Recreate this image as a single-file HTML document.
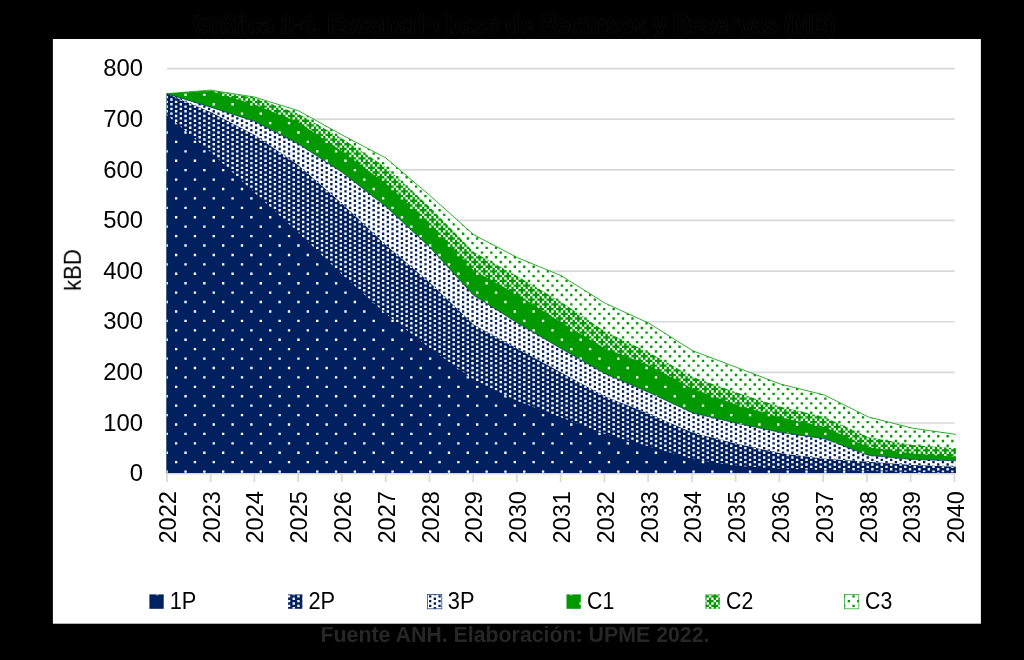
<!DOCTYPE html>
<html><head><meta charset="utf-8"><title>Grafica 1-4</title><style>html,body{margin:0;padding:0;background:#000;}body{width:1024px;height:660px;overflow:hidden;position:relative;font-family:"Liberation Sans",sans-serif;}</style></head><body><svg width="1024" height="660" viewBox="0 0 1024 660" style="position:absolute;left:0;top:0">
<defs><clipPath id="c1"><polygon points="166.60,114.75 210.45,151.90 254.30,192.50 298.15,232.50 342.00,274.40 385.85,313.75 429.70,348.00 473.55,379.60 517.40,401.00 561.25,417.50 605.10,433.90 648.95,446.40 692.80,459.00 736.65,466.00 780.50,468.50 824.35,470.00 868.20,471.00 912.05,472.00 955.90,472.60 955.90,473.10 912.05,473.10 868.20,473.10 824.35,473.10 780.50,473.10 736.65,473.10 692.80,473.10 648.95,473.10 605.10,473.10 561.25,473.10 517.40,473.10 473.55,473.10 429.70,473.10 385.85,473.10 342.00,473.10 298.15,473.10 254.30,473.10 210.45,473.10 166.60,473.10"/></clipPath><clipPath id="c2"><polygon points="166.60,93.70 210.45,111.90 254.30,134.80 298.15,165.10 342.00,203.40 385.85,245.00 429.70,282.60 473.55,324.50 517.40,348.75 561.25,372.50 605.10,396.60 648.95,413.80 692.80,432.80 736.65,443.75 780.50,453.30 824.35,458.75 868.20,461.70 912.05,465.00 955.90,466.80 955.90,473.10 912.05,473.10 868.20,473.10 824.35,473.10 780.50,473.10 736.65,473.10 692.80,473.10 648.95,473.10 605.10,473.10 561.25,473.10 517.40,473.10 473.55,473.10 429.70,473.10 385.85,473.10 342.00,473.10 298.15,473.10 254.30,473.10 210.45,473.10 166.60,473.10"/></clipPath><clipPath id="c3"><polygon points="166.60,93.70 210.45,107.20 254.30,121.25 298.15,143.80 342.00,172.30 385.85,206.60 429.70,247.20 473.55,295.30 517.40,323.00 561.25,348.75 605.10,373.75 648.95,392.50 692.80,413.00 736.65,423.30 780.50,432.50 824.35,438.75 868.20,455.30 912.05,459.60 955.90,460.80 955.90,473.10 912.05,473.10 868.20,473.10 824.35,473.10 780.50,473.10 736.65,473.10 692.80,473.10 648.95,473.10 605.10,473.10 561.25,473.10 517.40,473.10 473.55,473.10 429.70,473.10 385.85,473.10 342.00,473.10 298.15,473.10 254.30,473.10 210.45,473.10 166.60,473.10"/></clipPath><clipPath id="c4"><polygon points="166.60,93.70 210.45,91.00 254.30,104.60 298.15,121.90 342.00,151.20 385.85,183.40 429.70,223.10 473.55,270.20 517.40,294.50 561.25,322.50 605.10,348.40 648.95,365.30 692.80,388.75 736.65,404.70 780.50,417.50 824.35,426.80 868.20,447.30 912.05,453.60 955.90,456.70 955.90,473.10 912.05,473.10 868.20,473.10 824.35,473.10 780.50,473.10 736.65,473.10 692.80,473.10 648.95,473.10 605.10,473.10 561.25,473.10 517.40,473.10 473.55,473.10 429.70,473.10 385.85,473.10 342.00,473.10 298.15,473.10 254.30,473.10 210.45,473.10 166.60,473.10"/></clipPath><clipPath id="c5"><polygon points="166.60,93.70 210.45,90.50 254.30,97.70 298.15,113.70 342.00,138.60 385.85,167.20 429.70,206.90 473.55,251.90 517.40,276.25 561.25,302.00 605.10,331.50 648.95,352.50 692.80,377.00 736.65,392.50 780.50,406.80 824.35,417.00 868.20,437.00 912.05,445.00 955.90,448.30 955.90,473.10 912.05,473.10 868.20,473.10 824.35,473.10 780.50,473.10 736.65,473.10 692.80,473.10 648.95,473.10 605.10,473.10 561.25,473.10 517.40,473.10 473.55,473.10 429.70,473.10 385.85,473.10 342.00,473.10 298.15,473.10 254.30,473.10 210.45,473.10 166.60,473.10"/></clipPath><clipPath id="c6"><polygon points="166.60,93.70 210.45,90.10 254.30,97.00 298.15,110.60 342.00,134.90 385.85,158.00 429.70,195.30 473.55,234.60 517.40,257.60 561.25,275.70 605.10,303.20 648.95,323.20 692.80,350.80 736.65,367.40 780.50,384.10 824.35,395.00 868.20,416.90 912.05,428.10 955.90,434.40 955.90,473.10 912.05,473.10 868.20,473.10 824.35,473.10 780.50,473.10 736.65,473.10 692.80,473.10 648.95,473.10 605.10,473.10 561.25,473.10 517.40,473.10 473.55,473.10 429.70,473.10 385.85,473.10 342.00,473.10 298.15,473.10 254.30,473.10 210.45,473.10 166.60,473.10"/></clipPath><filter id="bl" x="-2%" y="-2%" width="104%" height="104%"><feGaussianBlur stdDeviation="0.3"/></filter><filter id="tb" x="-2%" y="-2%" width="104%" height="104%"><feGaussianBlur stdDeviation="0.35"/></filter></defs>
<rect x="52.9" y="39" width="928" height="584.7" fill="#fff"/>
<line x1="167.0" y1="423.00" x2="954.5" y2="423.00" stroke="#d9d9d9" stroke-width="1.7"/>
<line x1="167.0" y1="372.36" x2="954.5" y2="372.36" stroke="#d9d9d9" stroke-width="1.7"/>
<line x1="167.0" y1="321.73" x2="954.5" y2="321.73" stroke="#d9d9d9" stroke-width="1.7"/>
<line x1="167.0" y1="271.09" x2="954.5" y2="271.09" stroke="#d9d9d9" stroke-width="1.7"/>
<line x1="167.0" y1="220.46" x2="954.5" y2="220.46" stroke="#d9d9d9" stroke-width="1.7"/>
<line x1="167.0" y1="169.83" x2="954.5" y2="169.83" stroke="#d9d9d9" stroke-width="1.7"/>
<line x1="167.0" y1="119.19" x2="954.5" y2="119.19" stroke="#d9d9d9" stroke-width="1.7"/>
<line x1="167.0" y1="68.56" x2="954.5" y2="68.56" stroke="#d9d9d9" stroke-width="1.7"/>
<line x1="166.2" y1="473.63" x2="955.3" y2="473.63" stroke="#d9d9d9" stroke-width="1.7"/>
<g>
<polygon points="166.60,93.70 210.45,90.10 254.30,97.00 298.15,110.60 342.00,134.90 385.85,158.00 429.70,195.30 473.55,234.60 517.40,257.60 561.25,275.70 605.10,303.20 648.95,323.20 692.80,350.80 736.65,367.40 780.50,384.10 824.35,395.00 868.20,416.90 912.05,428.10 955.90,434.40 955.90,473.10 912.05,473.10 868.20,473.10 824.35,473.10 780.50,473.10 736.65,473.10 692.80,473.10 648.95,473.10 605.10,473.10 561.25,473.10 517.40,473.10 473.55,473.10 429.70,473.10 385.85,473.10 342.00,473.10 298.15,473.10 254.30,473.10 210.45,473.10 166.60,473.10" fill="#fff"/>
<g clip-path="url(#c6)"><path d="M156.14 87.74H960M156.14 97.16H960M156.14 106.58H960M156.14 116.00H960M156.14 125.42H960M156.14 134.84H960M156.14 144.26H960M156.14 153.68H960M156.14 163.10H960M156.14 172.52H960M156.14 181.94H960M156.14 191.36H960M156.14 200.78H960M156.14 210.20H960M156.14 219.62H960M156.14 229.04H960M156.14 238.46H960M156.14 247.88H960M156.14 257.30H960M156.14 266.72H960M156.14 276.14H960M156.14 285.56H960M156.14 294.98H960M156.14 304.40H960M156.14 313.82H960M156.14 323.24H960M156.14 332.66H960M156.14 342.08H960M156.14 351.50H960M156.14 360.92H960M156.14 370.34H960M156.14 379.76H960M156.14 389.18H960M156.14 398.60H960M156.14 408.02H960M156.14 417.44H960M156.14 426.86H960M156.14 436.28H960M156.14 445.70H960M156.14 455.12H960M156.14 464.54H960M156.14 473.96H960" fill="none" stroke="#009900" stroke-width="2.355" stroke-dasharray="2.3522 7.0566"/><path d="M151.44 92.45H960M151.44 101.87H960M151.44 111.29H960M151.44 120.71H960M151.44 130.13H960M151.44 139.55H960M151.44 148.97H960M151.44 158.39H960M151.44 167.81H960M151.44 177.23H960M151.44 186.65H960M151.44 196.07H960M151.44 205.49H960M151.44 214.91H960M151.44 224.33H960M151.44 233.75H960M151.44 243.17H960M151.44 252.59H960M151.44 262.01H960M151.44 271.43H960M151.44 280.85H960M151.44 290.27H960M151.44 299.69H960M151.44 309.11H960M151.44 318.53H960M151.44 327.95H960M151.44 337.37H960M151.44 346.79H960M151.44 356.21H960M151.44 365.63H960M151.44 375.05H960M151.44 384.47H960M151.44 393.89H960M151.44 403.31H960M151.44 412.73H960M151.44 422.15H960M151.44 431.57H960M151.44 440.99H960M151.44 450.41H960M151.44 459.83H960M151.44 469.25H960" fill="none" stroke="#009900" stroke-width="2.355" stroke-dasharray="2.3522 7.0566"/></g>
<polygon points="166.60,93.70 210.45,90.50 254.30,97.70 298.15,113.70 342.00,138.60 385.85,167.20 429.70,206.90 473.55,251.90 517.40,276.25 561.25,302.00 605.10,331.50 648.95,352.50 692.80,377.00 736.65,392.50 780.50,406.80 824.35,417.00 868.20,437.00 912.05,445.00 955.90,448.30 955.90,473.10 912.05,473.10 868.20,473.10 824.35,473.10 780.50,473.10 736.65,473.10 692.80,473.10 648.95,473.10 605.10,473.10 561.25,473.10 517.40,473.10 473.55,473.10 429.70,473.10 385.85,473.10 342.00,473.10 298.15,473.10 254.30,473.10 210.45,473.10 166.60,473.10" fill="#009900"/>
<g clip-path="url(#c5)"><path d="M156.14 90.10H960M156.14 94.81H960M156.14 99.52H960M156.14 104.23H960M156.14 108.94H960M156.14 113.65H960M156.14 118.36H960M156.14 123.07H960M156.14 127.78H960M156.14 132.49H960M156.14 137.20H960M156.14 141.91H960M156.14 146.62H960M156.14 151.33H960M156.14 156.04H960M156.14 160.75H960M156.14 165.46H960M156.14 170.17H960M156.14 174.88H960M156.14 179.59H960M156.14 184.30H960M156.14 189.01H960M156.14 193.72H960M156.14 198.43H960M156.14 203.14H960M156.14 207.85H960M156.14 212.56H960M156.14 217.27H960M156.14 221.98H960M156.14 226.69H960M156.14 231.40H960M156.14 236.11H960M156.14 240.82H960M156.14 245.53H960M156.14 250.24H960M156.14 254.95H960M156.14 259.66H960M156.14 264.37H960M156.14 269.08H960M156.14 273.79H960M156.14 278.50H960M156.14 283.21H960M156.14 287.92H960M156.14 292.63H960M156.14 297.34H960M156.14 302.05H960M156.14 306.76H960M156.14 311.47H960M156.14 316.18H960M156.14 320.89H960M156.14 325.60H960M156.14 330.31H960M156.14 335.02H960M156.14 339.73H960M156.14 344.44H960M156.14 349.15H960M156.14 353.86H960M156.14 358.57H960M156.14 363.28H960M156.14 367.99H960M156.14 372.70H960M156.14 377.41H960M156.14 382.12H960M156.14 386.83H960M156.14 391.54H960M156.14 396.25H960M156.14 400.96H960M156.14 405.67H960M156.14 410.38H960M156.14 415.09H960M156.14 419.80H960M156.14 424.51H960M156.14 429.22H960M156.14 433.93H960M156.14 438.64H960M156.14 443.35H960M156.14 448.06H960M156.14 452.77H960M156.14 457.48H960M156.14 462.19H960M156.14 466.90H960M156.14 471.61H960M156.14 476.32H960" fill="none" stroke="#fff" stroke-width="2.355" stroke-dasharray="2.3522 2.3522"/><path d="M158.49 92.45H960M158.49 101.87H960M158.49 111.29H960M158.49 120.71H960M158.49 130.13H960M158.49 139.55H960M158.49 148.97H960M158.49 158.39H960M158.49 167.81H960M158.49 177.23H960M158.49 186.65H960M158.49 196.07H960M158.49 205.49H960M158.49 214.91H960M158.49 224.33H960M158.49 233.75H960M158.49 243.17H960M158.49 252.59H960M158.49 262.01H960M158.49 271.43H960M158.49 280.85H960M158.49 290.27H960M158.49 299.69H960M158.49 309.11H960M158.49 318.53H960M158.49 327.95H960M158.49 337.37H960M158.49 346.79H960M158.49 356.21H960M158.49 365.63H960M158.49 375.05H960M158.49 384.47H960M158.49 393.89H960M158.49 403.31H960M158.49 412.73H960M158.49 422.15H960M158.49 431.57H960M158.49 440.99H960M158.49 450.41H960M158.49 459.83H960M158.49 469.25H960" fill="none" stroke="#fff" stroke-width="2.355" stroke-dasharray="2.3522 7.0566"/><path d="M153.79 87.74H960M153.79 97.16H960M153.79 106.58H960M153.79 116.00H960M153.79 125.42H960M153.79 134.84H960M153.79 144.26H960M153.79 153.68H960M153.79 163.10H960M153.79 172.52H960M153.79 181.94H960M153.79 191.36H960M153.79 200.78H960M153.79 210.20H960M153.79 219.62H960M153.79 229.04H960M153.79 238.46H960M153.79 247.88H960M153.79 257.30H960M153.79 266.72H960M153.79 276.14H960M153.79 285.56H960M153.79 294.98H960M153.79 304.40H960M153.79 313.82H960M153.79 323.24H960M153.79 332.66H960M153.79 342.08H960M153.79 351.50H960M153.79 360.92H960M153.79 370.34H960M153.79 379.76H960M153.79 389.18H960M153.79 398.60H960M153.79 408.02H960M153.79 417.44H960M153.79 426.86H960M153.79 436.28H960M153.79 445.70H960M153.79 455.12H960M153.79 464.54H960M153.79 473.96H960" fill="none" stroke="#fff" stroke-width="2.355" stroke-dasharray="2.3522 7.0566"/></g>
<polygon points="166.60,93.70 210.45,91.00 254.30,104.60 298.15,121.90 342.00,151.20 385.85,183.40 429.70,223.10 473.55,270.20 517.40,294.50 561.25,322.50 605.10,348.40 648.95,365.30 692.80,388.75 736.65,404.70 780.50,417.50 824.35,426.80 868.20,447.30 912.05,453.60 955.90,456.70 955.90,473.10 912.05,473.10 868.20,473.10 824.35,473.10 780.50,473.10 736.65,473.10 692.80,473.10 648.95,473.10 605.10,473.10 561.25,473.10 517.40,473.10 473.55,473.10 429.70,473.10 385.85,473.10 342.00,473.10 298.15,473.10 254.30,473.10 210.45,473.10 166.60,473.10" fill="#009900"/>
<g clip-path="url(#c4)"><path d="M156.14 104.23H960M156.14 123.07H960M156.14 141.91H960M156.14 160.75H960M156.14 179.59H960M156.14 198.43H960M156.14 217.27H960M156.14 236.11H960M156.14 254.95H960M156.14 273.79H960M156.14 292.63H960M156.14 311.47H960M156.14 330.31H960M156.14 349.15H960M156.14 367.99H960M156.14 386.83H960M156.14 405.67H960M156.14 424.51H960M156.14 443.35H960M156.14 462.19H960" fill="none" stroke="#fff" stroke-width="2.355" stroke-dasharray="2.3522 16.4654"/><path d="M146.73 94.81H960M146.73 113.65H960M146.73 132.49H960M146.73 151.33H960M146.73 170.17H960M146.73 189.01H960M146.73 207.85H960M146.73 226.69H960M146.73 245.53H960M146.73 264.37H960M146.73 283.21H960M146.73 302.05H960M146.73 320.89H960M146.73 339.73H960M146.73 358.57H960M146.73 377.41H960M146.73 396.25H960M146.73 415.09H960M146.73 433.93H960M146.73 452.77H960M146.73 471.61H960" fill="none" stroke="#fff" stroke-width="2.355" stroke-dasharray="2.3522 16.4654"/></g>
<polygon points="166.60,93.70 210.45,107.20 254.30,121.25 298.15,143.80 342.00,172.30 385.85,206.60 429.70,247.20 473.55,295.30 517.40,323.00 561.25,348.75 605.10,373.75 648.95,392.50 692.80,413.00 736.65,423.30 780.50,432.50 824.35,438.75 868.20,455.30 912.05,459.60 955.90,460.80 955.90,473.10 912.05,473.10 868.20,473.10 824.35,473.10 780.50,473.10 736.65,473.10 692.80,473.10 648.95,473.10 605.10,473.10 561.25,473.10 517.40,473.10 473.55,473.10 429.70,473.10 385.85,473.10 342.00,473.10 298.15,473.10 254.30,473.10 210.45,473.10 166.60,473.10" fill="#fff"/>
<g clip-path="url(#c3)"><path d="M156.14 92.45H960M156.14 97.16H960M156.14 101.87H960M156.14 106.58H960M156.14 111.29H960M156.14 116.00H960M156.14 120.71H960M156.14 125.42H960M156.14 130.13H960M156.14 134.84H960M156.14 139.55H960M156.14 144.26H960M156.14 148.97H960M156.14 153.68H960M156.14 158.39H960M156.14 163.10H960M156.14 167.81H960M156.14 172.52H960M156.14 177.23H960M156.14 181.94H960M156.14 186.65H960M156.14 191.36H960M156.14 196.07H960M156.14 200.78H960M156.14 205.49H960M156.14 210.20H960M156.14 214.91H960M156.14 219.62H960M156.14 224.33H960M156.14 229.04H960M156.14 233.75H960M156.14 238.46H960M156.14 243.17H960M156.14 247.88H960M156.14 252.59H960M156.14 257.30H960M156.14 262.01H960M156.14 266.72H960M156.14 271.43H960M156.14 276.14H960M156.14 280.85H960M156.14 285.56H960M156.14 290.27H960M156.14 294.98H960M156.14 299.69H960M156.14 304.40H960M156.14 309.11H960M156.14 313.82H960M156.14 318.53H960M156.14 323.24H960M156.14 327.95H960M156.14 332.66H960M156.14 337.37H960M156.14 342.08H960M156.14 346.79H960M156.14 351.50H960M156.14 356.21H960M156.14 360.92H960M156.14 365.63H960M156.14 370.34H960M156.14 375.05H960M156.14 379.76H960M156.14 384.47H960M156.14 389.18H960M156.14 393.89H960M156.14 398.60H960M156.14 403.31H960M156.14 408.02H960M156.14 412.73H960M156.14 417.44H960M156.14 422.15H960M156.14 426.86H960M156.14 431.57H960M156.14 436.28H960M156.14 440.99H960M156.14 445.70H960M156.14 450.41H960M156.14 455.12H960M156.14 459.83H960M156.14 464.54H960M156.14 469.25H960M156.14 473.96H960" fill="none" stroke="#002060" stroke-width="2.355" stroke-dasharray="2.3522 7.0566"/><path d="M151.44 90.10H960M151.44 94.81H960M151.44 99.52H960M151.44 104.23H960M151.44 108.94H960M151.44 113.65H960M151.44 118.36H960M151.44 123.07H960M151.44 127.78H960M151.44 132.49H960M151.44 137.20H960M151.44 141.91H960M151.44 146.62H960M151.44 151.33H960M151.44 156.04H960M151.44 160.75H960M151.44 165.46H960M151.44 170.17H960M151.44 174.88H960M151.44 179.59H960M151.44 184.30H960M151.44 189.01H960M151.44 193.72H960M151.44 198.43H960M151.44 203.14H960M151.44 207.85H960M151.44 212.56H960M151.44 217.27H960M151.44 221.98H960M151.44 226.69H960M151.44 231.40H960M151.44 236.11H960M151.44 240.82H960M151.44 245.53H960M151.44 250.24H960M151.44 254.95H960M151.44 259.66H960M151.44 264.37H960M151.44 269.08H960M151.44 273.79H960M151.44 278.50H960M151.44 283.21H960M151.44 287.92H960M151.44 292.63H960M151.44 297.34H960M151.44 302.05H960M151.44 306.76H960M151.44 311.47H960M151.44 316.18H960M151.44 320.89H960M151.44 325.60H960M151.44 330.31H960M151.44 335.02H960M151.44 339.73H960M151.44 344.44H960M151.44 349.15H960M151.44 353.86H960M151.44 358.57H960M151.44 363.28H960M151.44 367.99H960M151.44 372.70H960M151.44 377.41H960M151.44 382.12H960M151.44 386.83H960M151.44 391.54H960M151.44 396.25H960M151.44 400.96H960M151.44 405.67H960M151.44 410.38H960M151.44 415.09H960M151.44 419.80H960M151.44 424.51H960M151.44 429.22H960M151.44 433.93H960M151.44 438.64H960M151.44 443.35H960M151.44 448.06H960M151.44 452.77H960M151.44 457.48H960M151.44 462.19H960M151.44 466.90H960M151.44 471.61H960M151.44 476.32H960" fill="none" stroke="#002060" stroke-width="2.355" stroke-dasharray="2.3522 7.0566"/></g>
<polygon points="166.60,93.70 210.45,111.90 254.30,134.80 298.15,165.10 342.00,203.40 385.85,245.00 429.70,282.60 473.55,324.50 517.40,348.75 561.25,372.50 605.10,396.60 648.95,413.80 692.80,432.80 736.65,443.75 780.50,453.30 824.35,458.75 868.20,461.70 912.05,465.00 955.90,466.80 955.90,473.10 912.05,473.10 868.20,473.10 824.35,473.10 780.50,473.10 736.65,473.10 692.80,473.10 648.95,473.10 605.10,473.10 561.25,473.10 517.40,473.10 473.55,473.10 429.70,473.10 385.85,473.10 342.00,473.10 298.15,473.10 254.30,473.10 210.45,473.10 166.60,473.10" fill="#002060"/>
<g clip-path="url(#c2)"><path d="M156.14 92.45H960M156.14 97.16H960M156.14 101.87H960M156.14 106.58H960M156.14 111.29H960M156.14 116.00H960M156.14 120.71H960M156.14 125.42H960M156.14 130.13H960M156.14 134.84H960M156.14 139.55H960M156.14 144.26H960M156.14 148.97H960M156.14 153.68H960M156.14 158.39H960M156.14 163.10H960M156.14 167.81H960M156.14 172.52H960M156.14 177.23H960M156.14 181.94H960M156.14 186.65H960M156.14 191.36H960M156.14 196.07H960M156.14 200.78H960M156.14 205.49H960M156.14 210.20H960M156.14 214.91H960M156.14 219.62H960M156.14 224.33H960M156.14 229.04H960M156.14 233.75H960M156.14 238.46H960M156.14 243.17H960M156.14 247.88H960M156.14 252.59H960M156.14 257.30H960M156.14 262.01H960M156.14 266.72H960M156.14 271.43H960M156.14 276.14H960M156.14 280.85H960M156.14 285.56H960M156.14 290.27H960M156.14 294.98H960M156.14 299.69H960M156.14 304.40H960M156.14 309.11H960M156.14 313.82H960M156.14 318.53H960M156.14 323.24H960M156.14 327.95H960M156.14 332.66H960M156.14 337.37H960M156.14 342.08H960M156.14 346.79H960M156.14 351.50H960M156.14 356.21H960M156.14 360.92H960M156.14 365.63H960M156.14 370.34H960M156.14 375.05H960M156.14 379.76H960M156.14 384.47H960M156.14 389.18H960M156.14 393.89H960M156.14 398.60H960M156.14 403.31H960M156.14 408.02H960M156.14 412.73H960M156.14 417.44H960M156.14 422.15H960M156.14 426.86H960M156.14 431.57H960M156.14 436.28H960M156.14 440.99H960M156.14 445.70H960M156.14 450.41H960M156.14 455.12H960M156.14 459.83H960M156.14 464.54H960M156.14 469.25H960M156.14 473.96H960" fill="none" stroke="#fff" stroke-width="2.355" stroke-dasharray="2.3522 7.0566"/><path d="M151.44 90.10H960M151.44 94.81H960M151.44 99.52H960M151.44 104.23H960M151.44 108.94H960M151.44 113.65H960M151.44 118.36H960M151.44 123.07H960M151.44 127.78H960M151.44 132.49H960M151.44 137.20H960M151.44 141.91H960M151.44 146.62H960M151.44 151.33H960M151.44 156.04H960M151.44 160.75H960M151.44 165.46H960M151.44 170.17H960M151.44 174.88H960M151.44 179.59H960M151.44 184.30H960M151.44 189.01H960M151.44 193.72H960M151.44 198.43H960M151.44 203.14H960M151.44 207.85H960M151.44 212.56H960M151.44 217.27H960M151.44 221.98H960M151.44 226.69H960M151.44 231.40H960M151.44 236.11H960M151.44 240.82H960M151.44 245.53H960M151.44 250.24H960M151.44 254.95H960M151.44 259.66H960M151.44 264.37H960M151.44 269.08H960M151.44 273.79H960M151.44 278.50H960M151.44 283.21H960M151.44 287.92H960M151.44 292.63H960M151.44 297.34H960M151.44 302.05H960M151.44 306.76H960M151.44 311.47H960M151.44 316.18H960M151.44 320.89H960M151.44 325.60H960M151.44 330.31H960M151.44 335.02H960M151.44 339.73H960M151.44 344.44H960M151.44 349.15H960M151.44 353.86H960M151.44 358.57H960M151.44 363.28H960M151.44 367.99H960M151.44 372.70H960M151.44 377.41H960M151.44 382.12H960M151.44 386.83H960M151.44 391.54H960M151.44 396.25H960M151.44 400.96H960M151.44 405.67H960M151.44 410.38H960M151.44 415.09H960M151.44 419.80H960M151.44 424.51H960M151.44 429.22H960M151.44 433.93H960M151.44 438.64H960M151.44 443.35H960M151.44 448.06H960M151.44 452.77H960M151.44 457.48H960M151.44 462.19H960M151.44 466.90H960M151.44 471.61H960M151.44 476.32H960" fill="none" stroke="#fff" stroke-width="2.355" stroke-dasharray="2.3522 7.0566"/></g>
<polygon points="166.60,114.75 210.45,151.90 254.30,192.50 298.15,232.50 342.00,274.40 385.85,313.75 429.70,348.00 473.55,379.60 517.40,401.00 561.25,417.50 605.10,433.90 648.95,446.40 692.80,459.00 736.65,466.00 780.50,468.50 824.35,470.00 868.20,471.00 912.05,472.00 955.90,472.60 955.90,473.10 912.05,473.10 868.20,473.10 824.35,473.10 780.50,473.10 736.65,473.10 692.80,473.10 648.95,473.10 605.10,473.10 561.25,473.10 517.40,473.10 473.55,473.10 429.70,473.10 385.85,473.10 342.00,473.10 298.15,473.10 254.30,473.10 210.45,473.10 166.60,473.10" fill="#002060"/>
<g clip-path="url(#c1)"><path d="M156.14 123.07H960M156.14 141.91H960M156.14 160.75H960M156.14 179.59H960M156.14 198.43H960M156.14 217.27H960M156.14 236.11H960M156.14 254.95H960M156.14 273.79H960M156.14 292.63H960M156.14 311.47H960M156.14 330.31H960M156.14 349.15H960M156.14 367.99H960M156.14 386.83H960M156.14 405.67H960M156.14 424.51H960M156.14 443.35H960M156.14 462.19H960" fill="none" stroke="#fff" stroke-width="2.355" stroke-dasharray="2.3522 16.4654"/><path d="M146.73 113.65H960M146.73 132.49H960M146.73 151.33H960M146.73 170.17H960M146.73 189.01H960M146.73 207.85H960M146.73 226.69H960M146.73 245.53H960M146.73 264.37H960M146.73 283.21H960M146.73 302.05H960M146.73 320.89H960M146.73 339.73H960M146.73 358.57H960M146.73 377.41H960M146.73 396.25H960M146.73 415.09H960M146.73 433.93H960M146.73 452.77H960M146.73 471.61H960" fill="none" stroke="#fff" stroke-width="2.355" stroke-dasharray="2.3522 16.4654"/></g>
<polyline points="166.60,93.70 210.45,90.10 254.30,97.00 298.15,110.60 342.00,134.90 385.85,158.00 429.70,195.30 473.55,234.60 517.40,257.60 561.25,275.70 605.10,303.20 648.95,323.20 692.80,350.80 736.65,367.40 780.50,384.10 824.35,395.00 868.20,416.90 912.05,428.10 955.90,434.40" fill="none" stroke="#009900" stroke-width="0.8"/>
<polyline points="166.60,93.70 210.45,107.20 254.30,121.25 298.15,143.80 342.00,172.30 385.85,206.60 429.70,247.20 473.55,295.30 517.40,323.00 561.25,348.75 605.10,373.75 648.95,392.50 692.80,413.00 736.65,423.30 780.50,432.50 824.35,438.75 868.20,455.30 912.05,459.60 955.90,460.80" fill="none" stroke="#002060" stroke-width="0.6"/>
</g>
<line x1="166.90" y1="473.63" x2="166.90" y2="482.00" stroke="#d9d9d9" stroke-width="1.7"/>
<line x1="210.65" y1="473.63" x2="210.65" y2="482.00" stroke="#d9d9d9" stroke-width="1.7"/>
<line x1="254.40" y1="473.63" x2="254.40" y2="482.00" stroke="#d9d9d9" stroke-width="1.7"/>
<line x1="298.15" y1="473.63" x2="298.15" y2="482.00" stroke="#d9d9d9" stroke-width="1.7"/>
<line x1="341.90" y1="473.63" x2="341.90" y2="482.00" stroke="#d9d9d9" stroke-width="1.7"/>
<line x1="385.65" y1="473.63" x2="385.65" y2="482.00" stroke="#d9d9d9" stroke-width="1.7"/>
<line x1="429.40" y1="473.63" x2="429.40" y2="482.00" stroke="#d9d9d9" stroke-width="1.7"/>
<line x1="473.15" y1="473.63" x2="473.15" y2="482.00" stroke="#d9d9d9" stroke-width="1.7"/>
<line x1="516.90" y1="473.63" x2="516.90" y2="482.00" stroke="#d9d9d9" stroke-width="1.7"/>
<line x1="560.65" y1="473.63" x2="560.65" y2="482.00" stroke="#d9d9d9" stroke-width="1.7"/>
<line x1="604.40" y1="473.63" x2="604.40" y2="482.00" stroke="#d9d9d9" stroke-width="1.7"/>
<line x1="648.15" y1="473.63" x2="648.15" y2="482.00" stroke="#d9d9d9" stroke-width="1.7"/>
<line x1="691.90" y1="473.63" x2="691.90" y2="482.00" stroke="#d9d9d9" stroke-width="1.7"/>
<line x1="735.65" y1="473.63" x2="735.65" y2="482.00" stroke="#d9d9d9" stroke-width="1.7"/>
<line x1="779.40" y1="473.63" x2="779.40" y2="482.00" stroke="#d9d9d9" stroke-width="1.7"/>
<line x1="823.15" y1="473.63" x2="823.15" y2="482.00" stroke="#d9d9d9" stroke-width="1.7"/>
<line x1="866.90" y1="473.63" x2="866.90" y2="482.00" stroke="#d9d9d9" stroke-width="1.7"/>
<line x1="910.65" y1="473.63" x2="910.65" y2="482.00" stroke="#d9d9d9" stroke-width="1.7"/>
<line x1="954.40" y1="473.63" x2="954.40" y2="482.00" stroke="#d9d9d9" stroke-width="1.7"/>
<g font-family="Liberation Sans, sans-serif" font-size="24.1" fill="#000" filter="url(#tb)">
<text transform="translate(143.0,481.33) scale(0.990,1)" text-anchor="end">0</text>
<text transform="translate(143.0,430.70) scale(0.990,1)" text-anchor="end">100</text>
<text transform="translate(143.0,380.06) scale(0.990,1)" text-anchor="end">200</text>
<text transform="translate(143.0,329.43) scale(0.990,1)" text-anchor="end">300</text>
<text transform="translate(143.0,278.79) scale(0.990,1)" text-anchor="end">400</text>
<text transform="translate(143.0,228.16) scale(0.990,1)" text-anchor="end">500</text>
<text transform="translate(143.0,177.53) scale(0.990,1)" text-anchor="end">600</text>
<text transform="translate(143.0,126.89) scale(0.990,1)" text-anchor="end">700</text>
<text transform="translate(143.0,76.26) scale(0.990,1)" text-anchor="end">800</text>
<text transform="translate(175.90,491.1) rotate(-90) scale(0.978,1)" text-anchor="end">2022</text>
<text transform="translate(219.69,491.1) rotate(-90) scale(0.978,1)" text-anchor="end">2023</text>
<text transform="translate(263.49,491.1) rotate(-90) scale(0.978,1)" text-anchor="end">2024</text>
<text transform="translate(307.28,491.1) rotate(-90) scale(0.978,1)" text-anchor="end">2025</text>
<text transform="translate(351.08,491.1) rotate(-90) scale(0.978,1)" text-anchor="end">2026</text>
<text transform="translate(394.88,491.1) rotate(-90) scale(0.978,1)" text-anchor="end">2027</text>
<text transform="translate(438.67,491.1) rotate(-90) scale(0.978,1)" text-anchor="end">2028</text>
<text transform="translate(482.46,491.1) rotate(-90) scale(0.978,1)" text-anchor="end">2029</text>
<text transform="translate(526.26,491.1) rotate(-90) scale(0.978,1)" text-anchor="end">2030</text>
<text transform="translate(570.05,491.1) rotate(-90) scale(0.978,1)" text-anchor="end">2031</text>
<text transform="translate(613.85,491.1) rotate(-90) scale(0.978,1)" text-anchor="end">2032</text>
<text transform="translate(657.64,491.1) rotate(-90) scale(0.978,1)" text-anchor="end">2033</text>
<text transform="translate(701.44,491.1) rotate(-90) scale(0.978,1)" text-anchor="end">2034</text>
<text transform="translate(745.24,491.1) rotate(-90) scale(0.978,1)" text-anchor="end">2035</text>
<text transform="translate(789.03,491.1) rotate(-90) scale(0.978,1)" text-anchor="end">2036</text>
<text transform="translate(832.82,491.1) rotate(-90) scale(0.978,1)" text-anchor="end">2037</text>
<text transform="translate(876.62,491.1) rotate(-90) scale(0.978,1)" text-anchor="end">2038</text>
<text transform="translate(920.41,491.1) rotate(-90) scale(0.978,1)" text-anchor="end">2039</text>
<text transform="translate(964.21,491.1) rotate(-90) scale(0.978,1)" text-anchor="end">2040</text>
<text transform="translate(80.8,270) rotate(-90) scale(0.92,1)" text-anchor="middle">kBD</text>
<clipPath id="lc0"><rect x="149.4" y="594.4" width="14.3" height="14.4"/></clipPath>
<rect x="149.4" y="594.4" width="14.3" height="14.4" fill="#002060"/>
<g clip-path="url(#lc0)"><path d="M137.32 594.07H167M137.32 612.91H167" fill="none" stroke="#fff" stroke-width="2.355" stroke-dasharray="2.3522 16.4654"/><path d="M127.91 603.49H167" fill="none" stroke="#fff" stroke-width="2.355" stroke-dasharray="2.3522 16.4654"/></g>
<text transform="translate(169.7,608.7) scale(0.941,1)" font-size="23.2">1P</text>
<clipPath id="lc1"><rect x="288.1" y="594.4" width="14.3" height="14.4"/></clipPath>
<rect x="288.1" y="594.4" width="14.3" height="14.4" fill="#002060"/>
<g clip-path="url(#lc1)"><path d="M278.46 591.71H306M278.46 596.42H306M278.46 601.13H306M278.46 605.84H306M278.46 610.55H306" fill="none" stroke="#fff" stroke-width="2.355" stroke-dasharray="2.3522 7.0566"/><path d="M283.16 589.36H306M283.16 594.07H306M283.16 598.78H306M283.16 603.49H306M283.16 608.20H306M283.16 612.91H306" fill="none" stroke="#fff" stroke-width="2.355" stroke-dasharray="2.3522 7.0566"/></g>
<text transform="translate(308.4,608.7) scale(0.941,1)" font-size="23.2">2P</text>
<clipPath id="lc2"><rect x="427.5" y="594.4" width="14.3" height="14.4"/></clipPath>
<rect x="427.5" y="594.4" width="14.3" height="14.4" fill="#fff"/>
<g clip-path="url(#lc2)"><path d="M419.59 591.71H446M419.59 596.42H446M419.59 601.13H446M419.59 605.84H446M419.59 610.55H446" fill="none" stroke="#002060" stroke-width="2.355" stroke-dasharray="2.3522 7.0566"/><path d="M424.29 589.36H446M424.29 594.07H446M424.29 598.78H446M424.29 603.49H446M424.29 608.20H446M424.29 612.91H446" fill="none" stroke="#002060" stroke-width="2.355" stroke-dasharray="2.3522 7.0566"/></g>
<rect x="427.5" y="594.4" width="14.3" height="14.4" fill="none" stroke="#002060" stroke-width="0.8" stroke-opacity="0.8"/>
<text transform="translate(447.8,608.7) scale(0.941,1)" font-size="23.2">3P</text>
<clipPath id="lc3"><rect x="566.5" y="594.4" width="14.3" height="14.4"/></clipPath>
<rect x="566.5" y="594.4" width="14.3" height="14.4" fill="#009900"/>
<g clip-path="url(#lc3)"><path d="M551.31 594.07H584M551.31 612.91H584" fill="none" stroke="#fff" stroke-width="2.355" stroke-dasharray="2.3522 16.4654"/><path d="M560.72 603.49H584" fill="none" stroke="#fff" stroke-width="2.355" stroke-dasharray="2.3522 16.4654"/></g>
<text transform="translate(587.1,608.7) scale(0.916,1)" font-size="23.2">C1</text>
<clipPath id="lc4"><rect x="705.5" y="594.4" width="14.3" height="14.4"/></clipPath>
<rect x="705.5" y="594.4" width="14.3" height="14.4" fill="#009900"/>
<g clip-path="url(#lc4)"><path d="M701.85 589.36H724M701.85 594.07H724M701.85 598.78H724M701.85 603.49H724M701.85 608.20H724M701.85 612.91H724" fill="none" stroke="#fff" stroke-width="2.355" stroke-dasharray="2.3522 2.3522"/><path d="M694.79 591.71H724M694.79 601.13H724M694.79 610.55H724" fill="none" stroke="#fff" stroke-width="2.355" stroke-dasharray="2.3522 7.0566"/><path d="M699.50 596.42H724M699.50 605.84H724" fill="none" stroke="#fff" stroke-width="2.355" stroke-dasharray="2.3522 7.0566"/></g>
<text transform="translate(726.1,608.7) scale(0.916,1)" font-size="23.2">C2</text>
<clipPath id="lc5"><rect x="844.5" y="594.4" width="14.3" height="14.4"/></clipPath>
<rect x="844.5" y="594.4" width="14.3" height="14.4" fill="#fff"/>
<g clip-path="url(#lc5)"><path d="M833.57 596.42H862M833.57 605.84H862" fill="none" stroke="#009900" stroke-width="2.355" stroke-dasharray="2.3522 7.0566"/><path d="M838.28 591.71H862M838.28 601.13H862M838.28 610.55H862" fill="none" stroke="#009900" stroke-width="2.355" stroke-dasharray="2.3522 7.0566"/></g>
<rect x="844.5" y="594.4" width="14.3" height="14.4" fill="none" stroke="#009900" stroke-width="0.8" stroke-opacity="0.8"/>
<text transform="translate(865.1,608.7) scale(0.916,1)" font-size="23.2">C3</text>
</g>
<text x="192.8" y="33" textLength="643" lengthAdjust="spacingAndGlyphs" font-family="Liberation Sans, sans-serif" font-weight="bold" font-size="25" fill="#000" stroke="#1b1b1b" stroke-width="0.7" paint-order="stroke">Gráfica 1-4. Escenario base de Recursos y Reservas (MB)</text>
<text x="320.5" y="642.2" textLength="389" lengthAdjust="spacingAndGlyphs" font-family="Liberation Sans, sans-serif" font-weight="bold" font-size="22.9" fill="#262626" filter="url(#tb)">Fuente ANH. Elaboración: UPME 2022.</text>
</svg></body></html>
